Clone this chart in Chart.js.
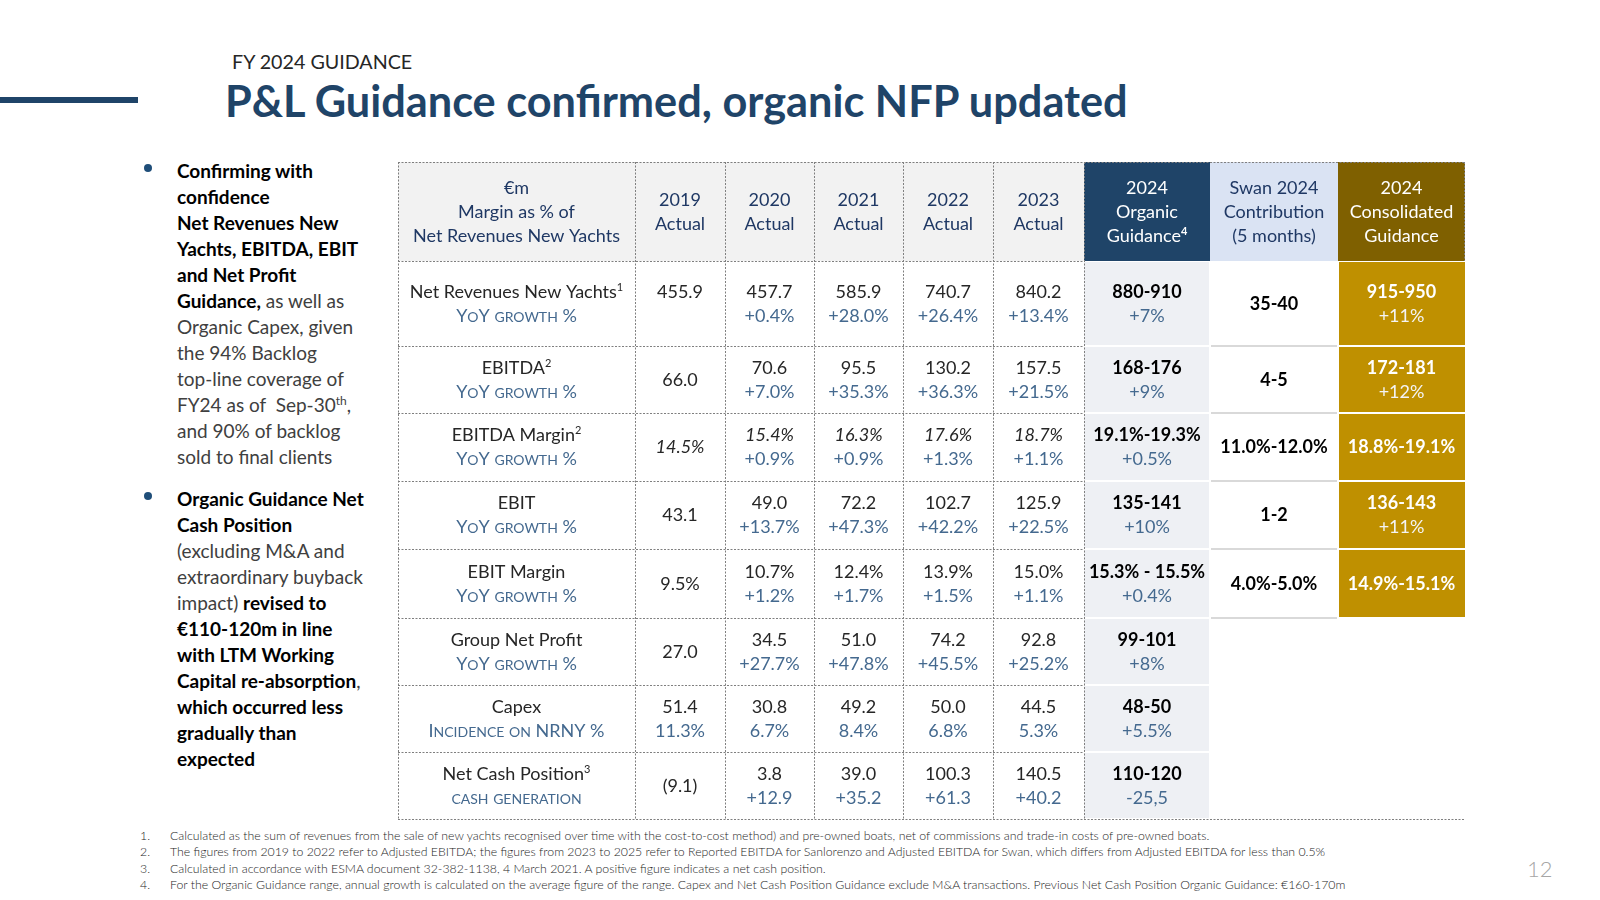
<!DOCTYPE html>
<html><head><meta charset="utf-8">
<script src="https://cdn.jsdelivr.net/npm/chart.js@4.4.1/dist/chart.umd.min.js"></script>
<style>
html,body{margin:0;padding:0;background:#fff;}
body{width:1600px;height:900px;position:relative;overflow:hidden;font-family:Lato,'Open Sans',sans-serif;}
#kicker{position:absolute;left:232px;top:50px;font-size:19.7px;line-height:24px;color:#262626;white-space:nowrap}
#title{position:absolute;left:225px;top:75px;font-size:43.3px;line-height:50px;font-weight:700;color:#1f4468;white-space:nowrap}
#bar{position:absolute;left:0;top:97px;width:138px;height:6px;background:#1f4468}
.bullets{position:absolute;left:177px;font-size:19px;line-height:26px;color:#404040;white-space:nowrap}
.bullets b{color:#000;font-weight:700}
.dot{position:absolute;left:144px;width:8px;height:8px;border-radius:50%;background:#1f4e79}
#chartbox{position:absolute;left:396px;top:160px;width:1072px;height:662px}
#notes{position:absolute;left:140px;top:828px;font-size:12.3px;color:#262626;line-height:16.3px;font-weight:300}
#notes div{white-space:nowrap}
#notes span.n{display:inline-block;width:30px}
#page{position:absolute;left:1527px;top:856px;font-size:22px;line-height:26px;color:#a6a6a6;font-weight:300}
</style></head>
<body>
<div id="kicker">FY 2024 GUIDANCE</div>
<div id="bar"></div>
<div id="title">P&amp;L Guidance confirmed, organic NFP updated</div>

<div class="dot" style="top:164px"></div>
<div class="bullets" style="top:158px">
<b>Confirming with</b><br><b>confidence</b><br><b>Net Revenues New</b><br><b>Yachts, EBITDA, EBIT</b><br><b>and Net Profit</b><br><b>Guidance,</b> as well as<br>Organic Capex, given<br>the 94% Backlog<br>top-line coverage of<br>FY24 as of&nbsp; Sep-30<sup style="font-size:12px;line-height:0">th</sup>,<br>and 90% of backlog<br>sold to final clients
</div>
<div class="dot" style="top:492px"></div>
<div class="bullets" style="top:486px">
<b>Organic Guidance Net</b><br><b>Cash Position</b><br>(excluding M&amp;A and<br>extraordinary buyback<br>impact) <b>revised to</b><br><b>€110-120m in line</b><br><b>with LTM Working</b><br><b>Capital re-absorption</b>,<br><b>which occurred less</b><br><b>gradually than</b><br><b>expected</b>
</div>

<div id="chartbox"><canvas id="c" width="1072" height="662"></canvas></div>

<div id="notes">
<div><span class="n">1.</span>Calculated as the sum of revenues from the sale of new yachts recognised over time with the cost-to-cost method) and pre-owned boats, net of commissions and trade-in costs of pre-owned boats.</div>
<div><span class="n">2.</span>The figures from 2019 to 2022 refer to Adjusted EBITDA; the figures from 2023 to 2025 refer to Reported EBITDA for Sanlorenzo and Adjusted EBITDA for Swan, which differs from Adjusted EBITDA for less than 0.5%</div>
<div><span class="n">3.</span>Calculated in accordance with ESMA document 32-382-1138, 4 March 2021. A positive figure indicates a net cash position.</div>
<div><span class="n">4.</span>For the Organic Guidance range, annual growth is calculated on the average figure of the range. Capex and Net Cash Position Guidance exclude M&amp;A transactions. Previous Net Cash Position Organic Guidance: €160-170m</div>
</div>
<div id="page">12</div>

<script>
// ---------- DATA ----------
const headerLabel = ['€m', 'Margin as % of', 'Net Revenues New Yachts'];
const years = ['2019', '2020', '2021', '2022', '2023'];
const organicHeader = ['2024', 'Organic', 'Guidance'];
const swanHeader = ['Swan 2024', 'Contribution', '(5 months)'];
const consolidatedHeader = ['2024', 'Consolidated', 'Guidance'];

const metrics = ['Net Revenues New Yachts', 'EBITDA', 'EBITDA Margin', 'EBIT', 'EBIT Margin', 'Group Net Profit', 'Capex', 'Net Cash Position'];
const metricNotes = ['1', '2', '2', '', '', '', '', '3'];
const subLabels = ['YoY growth %', 'YoY growth %', 'YoY growth %', 'YoY growth %', 'YoY growth %', 'YoY growth %', 'Incidence on NRNY %', 'cash generation'];

const actualValues = [
  ['455.9', '457.7', '585.9', '740.7', '840.2'],
  ['66.0', '70.6', '95.5', '130.2', '157.5'],
  ['14.5%', '15.4%', '16.3%', '17.6%', '18.7%'],
  ['43.1', '49.0', '72.2', '102.7', '125.9'],
  ['9.5%', '10.7%', '12.4%', '13.9%', '15.0%'],
  ['27.0', '34.5', '51.0', '74.2', '92.8'],
  ['51.4', '30.8', '49.2', '50.0', '44.5'],
  ['(9.1)', '3.8', '39.0', '100.3', '140.5']
];
const actualGrowth = [
  ['', '+0.4%', '+28.0%', '+26.4%', '+13.4%'],
  [null, '+7.0%', '+35.3%', '+36.3%', '+21.5%'],
  [null, '+0.9%', '+0.9%', '+1.3%', '+1.1%'],
  [null, '+13.7%', '+47.3%', '+42.2%', '+22.5%'],
  [null, '+1.2%', '+1.7%', '+1.5%', '+1.1%'],
  [null, '+27.7%', '+47.8%', '+45.5%', '+25.2%'],
  ['11.3%', '6.7%', '8.4%', '6.8%', '5.3%'],
  [null, '+12.9', '+35.2', '+61.3', '+40.2']
];
const italicRows = [2];

const organicGuidance = ['880-910', '168-176', '19.1%-19.3%', '135-141', '15.3% - 15.5%', '99-101', '48-50', '110-120'];
const organicGrowth = ['+7%', '+9%', '+0.5%', '+10%', '+0.4%', '+8%', '+5.5%', '-25,5'];
const swanContribution = ['35-40', '4-5', '11.0%-12.0%', '1-2', '4.0%-5.0%'];
const consolidatedGuidance = ['915-950', '172-181', '18.8%-19.1%', '136-143', '14.9%-15.1%'];
const consolidatedGrowth = ['+11%', '+12%', null, '+11%', null];

// ---------- LAYOUT (not data) ----------
const colWidths = [237, 89.5, 89.5, 89, 90, 91, 126, 128, 127];
const rowHeights = [99, 85, 67, 68, 68, 69, 67, 67, 67];
const colEdges = [0]; colWidths.forEach(w => colEdges.push(colEdges[colEdges.length - 1] + w));
const rowEdges = [0]; rowHeights.forEach(h => rowEdges.push(rowEdges[rowEdges.length - 1] + h));

const NAVY = '#1f4468', HEAD = '#1f3864', BLUE = '#44698f', INK = '#262626';
const FONT = 'Lato, "Open Sans", sans-serif';
const FS = 18, LINE = 24, VW = 400;

function f(weight, size, italic) { return (italic ? 'italic ' : '') + weight + ' ' + size + 'px ' + FONT; }

function drawRuns(ctx, parts, cx, cy, capSize) {
  let w = 0;
  parts.forEach(p => { ctx.font = p.font; p.w = ctx.measureText(p.t).width; w += p.w; });
  let x = cx - w / 2;
  const base = cy + (capSize || FS) * 0.36;
  ctx.textAlign = 'left'; ctx.textBaseline = 'alphabetic';
  parts.forEach(p => { ctx.font = p.font; ctx.fillStyle = p.color; ctx.fillText(p.t, x, base - (p.rise || 0)); x += p.w; });
}
function smallCaps(str, size, weight, color) {
  const runs = []; let cur = null;
  for (const ch of str) {
    const low = ch !== ch.toUpperCase();
    const key = low ? 's' : 'b';
    if (!cur || cur.k !== key) { cur = { k: key, t: '' }; runs.push(cur); }
    cur.t += low ? ch.toUpperCase() : ch;
  }
  return runs.map(r => ({ t: r.t, font: f(weight, r.k === 's' ? Math.round(size * 0.8) : size), color }));
}
function txt(ctx, t, cx, cy, font, color) { drawRuns(ctx, [{ t, font, color }], cx, cy); }

const tablePlugin = {
  id: 'tableCells',
  afterDraw(chart) {
    const ctx = chart.ctx, xs = chart.scales.x, ys = chart.scales.y;
    const X = i => Math.round(xs.getPixelForValue(colEdges[i]));
    const Y = j => Math.round(ys.getPixelForValue(rowEdges[j]));
    const CX = i => (X(i) + X(i + 1)) / 2, CY = j => (Y(j) + Y(j + 1)) / 2;
    const nAct = years.length, cOrg = 1 + nAct, cSwan = cOrg + 1, cCons = cSwan + 1;
    ctx.save();
    ctx.fillStyle = '#f2f2f2'; ctx.fillRect(X(0), Y(0), X(cOrg) - X(0), Y(1) - Y(0));
    ctx.fillStyle = NAVY; ctx.fillRect(X(cOrg), Y(0), X(cOrg + 1) - X(cOrg), Y(1) - Y(0));
    ctx.fillStyle = '#dae3f3'; ctx.fillRect(X(cSwan), Y(0), X(cSwan + 1) - X(cSwan), Y(1) - Y(0));
    ctx.fillStyle = '#7f6000'; ctx.fillRect(X(cCons), Y(0), X(cCons + 1) - X(cCons), Y(1) - Y(0));
    organicGuidance.forEach((v, r) => {
      ctx.fillStyle = '#eef0f4'; ctx.fillRect(X(cOrg), Y(r + 1) + 1, X(cOrg + 1) - X(cOrg) - 1, Y(r + 2) - Y(r + 1) - 2);
    });
    consolidatedGuidance.forEach((v, r) => {
      ctx.fillStyle = '#bf9000'; ctx.fillRect(X(cCons) + 1, Y(r + 1) + 1, X(cCons + 1) - X(cCons) - 1, Y(r + 2) - Y(r + 1) - 2);
    });
    ctx.fillStyle = '#d9d9d9';
    swanContribution.forEach((v, r) => { ctx.fillRect(X(cSwan) + 1, Y(r + 2) - 1, X(cSwan + 1) - X(cSwan) - 2, 2); });

    ctx.strokeStyle = '#7f7f7f'; ctx.lineWidth = 1; ctx.setLineDash([2, 1.5]);
    const hl = (y, x0, x1) => { ctx.beginPath(); ctx.moveTo(x0, y + 0.5); ctx.lineTo(x1, y + 0.5); ctx.stroke(); };
    const vl = (x, y0, y1) => { ctx.beginPath(); ctx.moveTo(x + 0.5, y0); ctx.lineTo(x + 0.5, y1); ctx.stroke(); };
    hl(Y(0), X(0), X(cCons + 1));
    for (let j = 1; j < rowEdges.length - 1; j++) hl(Y(j), X(0), X(cOrg));
    hl(Y(rowEdges.length - 1), X(0), X(cCons + 1));
    for (let i = 0; i <= cOrg; i++) vl(X(i), Y(0), Y(rowEdges.length - 1));
    vl(X(cCons + 1) - 1, Y(0), Y(1));
    ctx.setLineDash([]);

    const hdr = (lines, ci, color, sup) => {
      const n = lines.length;
      lines.forEach((t, k) => {
        const cy = CY(0) + (k - (n - 1) / 2) * LINE;
        const parts = [{ t, font: f(400, FS), color }];
        if (sup && k === n - 1) parts.push({ t: sup, font: f(700, 11), color, rise: 7 });
        drawRuns(ctx, parts, CX(ci), cy);
      });
    };
    hdr(headerLabel, 0, HEAD);
    years.forEach((y, i) => hdr([y, 'Actual'], i + 1, HEAD));
    hdr(organicHeader, cOrg, '#ffffff', '4');
    hdr(swanHeader, cSwan, HEAD);
    hdr(consolidatedHeader, cCons, '#ffffff');

    metrics.forEach((m, r) => {
      const cy = CY(r + 1);
      const lab = [{ t: m, font: f(VW, FS), color: INK }];
      if (metricNotes[r]) lab.push({ t: metricNotes[r], font: f(VW, 11), color: INK, rise: 7 });
      drawRuns(ctx, lab, CX(0), cy - LINE / 2);
      drawRuns(ctx, smallCaps(subLabels[r], FS, 400, BLUE), CX(0), cy + LINE / 2);
      actualValues[r].forEach((v, i) => {
        const g = actualGrowth[r][i];
        const it = italicRows.includes(r);
        if (g === null) { txt(ctx, v, CX(i + 1), cy, f(VW, FS, it), INK); }
        else {
          txt(ctx, v, CX(i + 1), cy - LINE / 2, f(VW, FS, it), INK);
          if (g) txt(ctx, g, CX(i + 1), cy + LINE / 2, f(VW, FS), BLUE);
        }
      });
      txt(ctx, organicGuidance[r], CX(cOrg), cy - LINE / 2, f(700, FS), '#000');
      txt(ctx, organicGrowth[r], CX(cOrg), cy + LINE / 2, f(VW, FS), BLUE);
      if (r < swanContribution.length) txt(ctx, swanContribution[r], CX(cSwan), cy, f(700, FS), '#000');
      if (r < consolidatedGuidance.length) {
        const g = consolidatedGrowth[r];
        if (g === null) txt(ctx, consolidatedGuidance[r], CX(cCons), cy, f(700, FS), '#fff');
        else {
          txt(ctx, consolidatedGuidance[r], CX(cCons), cy - LINE / 2, f(700, FS), '#fff');
          txt(ctx, g, CX(cCons), cy + LINE / 2, f(VW, FS), '#f4f4f4');
        }
      }
    });
    ctx.restore();
  }
};

document.fonts.load('400 18px Lato').then(() => document.fonts.load('700 18px Lato')).finally(() => {
  new Chart(document.getElementById('c'), {
    type: 'scatter',
    data: { datasets: [] },
    options: {
      responsive: false, animation: false, events: [],
      layout: { padding: { left: 2, top: 2, right: 3, bottom: 3 } },
      plugins: { legend: { display: false }, tooltip: { enabled: false } },
      scales: {
        x: { type: 'linear', display: false, min: 0, max: colEdges[colEdges.length - 1] },
        y: { type: 'linear', display: false, min: 0, max: rowEdges[rowEdges.length - 1], reverse: true }
      }
    },
    plugins: [tablePlugin]
  });
});
</script>
</body></html>
